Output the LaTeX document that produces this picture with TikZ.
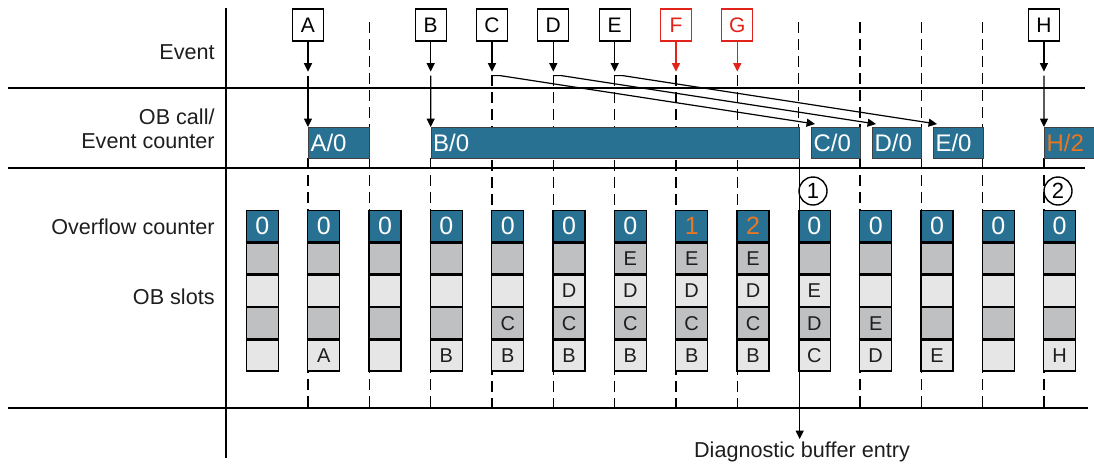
\documentclass[tikz,border=0pt]{standalone}
\usepackage{fontspec}
\setmainfont{Liberation Sans}
\usetikzlibrary{arrows.meta,calc}
\definecolor{obblue}{HTML}{287192}
\definecolor{slotdark}{HTML}{BEC0C2}
\definecolor{slotlight}{HTML}{E6E6E6}
\definecolor{cntorange}{HTML}{E87722}
\definecolor{evred}{HTML}{E2231A}
\definecolor{txtgray}{HTML}{1E1E1E}

\begin{document}
\begin{tikzpicture}[x=0.5pt, y=-0.5pt, >={Triangle[length=4.2pt,width=4pt]},
    evbox/.style={draw, line width=0.6pt, fill=white, minimum width=15.5pt, minimum height=16pt, inner sep=0pt, font=\fontsize{10.5}{11}\selectfont},
    obbar/.style={draw=black!75, line width=0.5pt, fill=obblue, anchor=north west, minimum height=15.5pt, inner xsep=1pt, inner ysep=0pt, text=white, align=left, font=\fontsize{12}{12}\selectfont},
    cntbox/.style={draw, line width=0.7pt, fill=obblue, anchor=north west, minimum width=16pt, minimum height=15.5pt, inner sep=0pt, font=\fontsize{12.5}{12}\selectfont},
    slotbox/.style={draw, line width=0.7pt, anchor=north, minimum width=16pt, minimum height=15.45pt, inner sep=0pt, text=txtgray, font=\fontsize{10}{10}\selectfont},
    rowlabel/.style={anchor=east, align=right, inner xsep=0pt, text=txtgray, font=\fontsize{10.8}{12}\selectfont},
    numcircle/.style={draw, circle, line width=0.7pt, fill=white, minimum size=14pt, inner sep=0pt, font=\fontsize{11}{11}\selectfont},
    tickline/.style={line width=0.65pt, dash pattern=on 5.5pt off 3pt},
    sepline/.style={line width=1pt},
    evarrow/.style={->, line width=0.6pt}]
    \useasboundingbox (0,0) rectangle (1094,467);

    % frame
    \draw[sepline] (8,88) -- (1085,88);
    \draw[sepline] (8,168) -- (1085,168);
    \draw[sepline] (8,408) -- (1088,408);
    \draw[line width=0.8pt] (226,8) -- (226,458);

    \node[rowlabel] (lblEvent) at (215,52) {Event};
    \node[rowlabel] (lblCall) at (215,129) {OB call/\\Event counter};
    \node[rowlabel] (lblOver) at (215,227) {Overflow counter};
    \node[rowlabel] (lblSlots) at (215,297) {OB slots};

    % time ticks
    \foreach \i in {1,9,10,11}
        \draw[tickline] ({308+61.33*\i},22) -- ({308+61.33*\i},408);
    \draw[tickline] (798.7,22) -- (798.7,127);
    \foreach \i in {3,...,7}
        \draw[tickline] ({308+61.33*\i},75) -- ({308+61.33*\i},408);
    \foreach \i in {0,2,12}
        \draw[tickline] ({308+61.33*\i},158) -- ({308+61.33*\i},408);

    % events
    \foreach \n/\i/\c in {A/0/black,B/2/black,C/3/black,D/4/black,E/5/black,F/6/evred,G/7/evred,H/12/black}{
        \node[evbox, draw=\c, text=\c] (ev\n) at ({308+61.33*\i},25) {\n};
        \draw[evarrow, draw=\c] (ev\n.south) -- ++(0,30);
    }

    % OB calls
    \node[obbar, text width=28.65pt] (obA) at (308,127) {A/0};
    \node[obbar, text width=182pt] (obB) at (430.7,127) {B/0};
    \node[obbar, text width=22.5pt] (obC) at (811,127) {C/0};
    \node[obbar, text width=22.65pt] (obD) at (872,127) {D/0};
    \node[obbar, text width=22.85pt] (obE) at (933,127) {E/0};
    \node[obbar, text width=23pt, text=cntorange] (obH) at (1044,127) {H/2};

    \foreach \n in {A,B,H}
        \draw[evarrow] (ev\n.south) ++(0,34) -- (ob\n.north west);
    \foreach \n in {C,D,E}
        \draw[evarrow] (ev\n.south) ++(0,34) -- ++(8,0) -- ($(ob\n.north west)+(4,-3)$);

    % overflow counter and slots
    \foreach \k/\v/\vc/\sa/\sb/\sc/\sd in {0/0/white/{}/{}/{}/{}, 1/0/white/{}/{}/{}/A, 2/0/white/{}/{}/{}/{},
            3/0/white/{}/{}/{}/B, 4/0/white/{}/{}/C/B, 5/0/white/{}/D/C/B, 6/0/white/E/D/C/B,
            7/1/cntorange/E/D/C/B, 8/2/cntorange/E/D/C/B, 9/0/white/{}/E/D/C, 10/0/white/{}/{}/E/D,
            11/0/white/{}/{}/{}/E, 12/0/white/{}/{}/{}/{}, 13/0/white/{}/{}/{}/H}{
        \node[cntbox, text=\vc] (cnt\k) at ({245.7+61.33*\k},210) {\v};
        \node[slotbox, fill=slotdark] (sa\k) at (cnt\k.south) {\sa};
        \node[slotbox, fill=slotlight] (sb\k) at (sa\k.south) {\sb};
        \node[slotbox, fill=slotdark] (sc\k) at (sb\k.south) {\sc};
        \node[slotbox, fill=slotlight] (sd\k) at (sc\k.south) {\sd};
        \draw[line width=1.5pt] (cnt\k.south west) -- (cnt\k.south east);
    }

    \node[numcircle] (note1) at (813,191) {1};
    \node[numcircle] (note2) at (1058,191) {2};

    % diagnostic buffer
    \node[anchor=north, inner sep=1pt, text=txtgray, font=\fontsize{10.8}{12}\selectfont] (diag) at (802,439) {Diagnostic buffer entry};
    \draw[evarrow] (obB.south east) -- (obB.south east |- diag.north);
\end{tikzpicture}
\end{document}
